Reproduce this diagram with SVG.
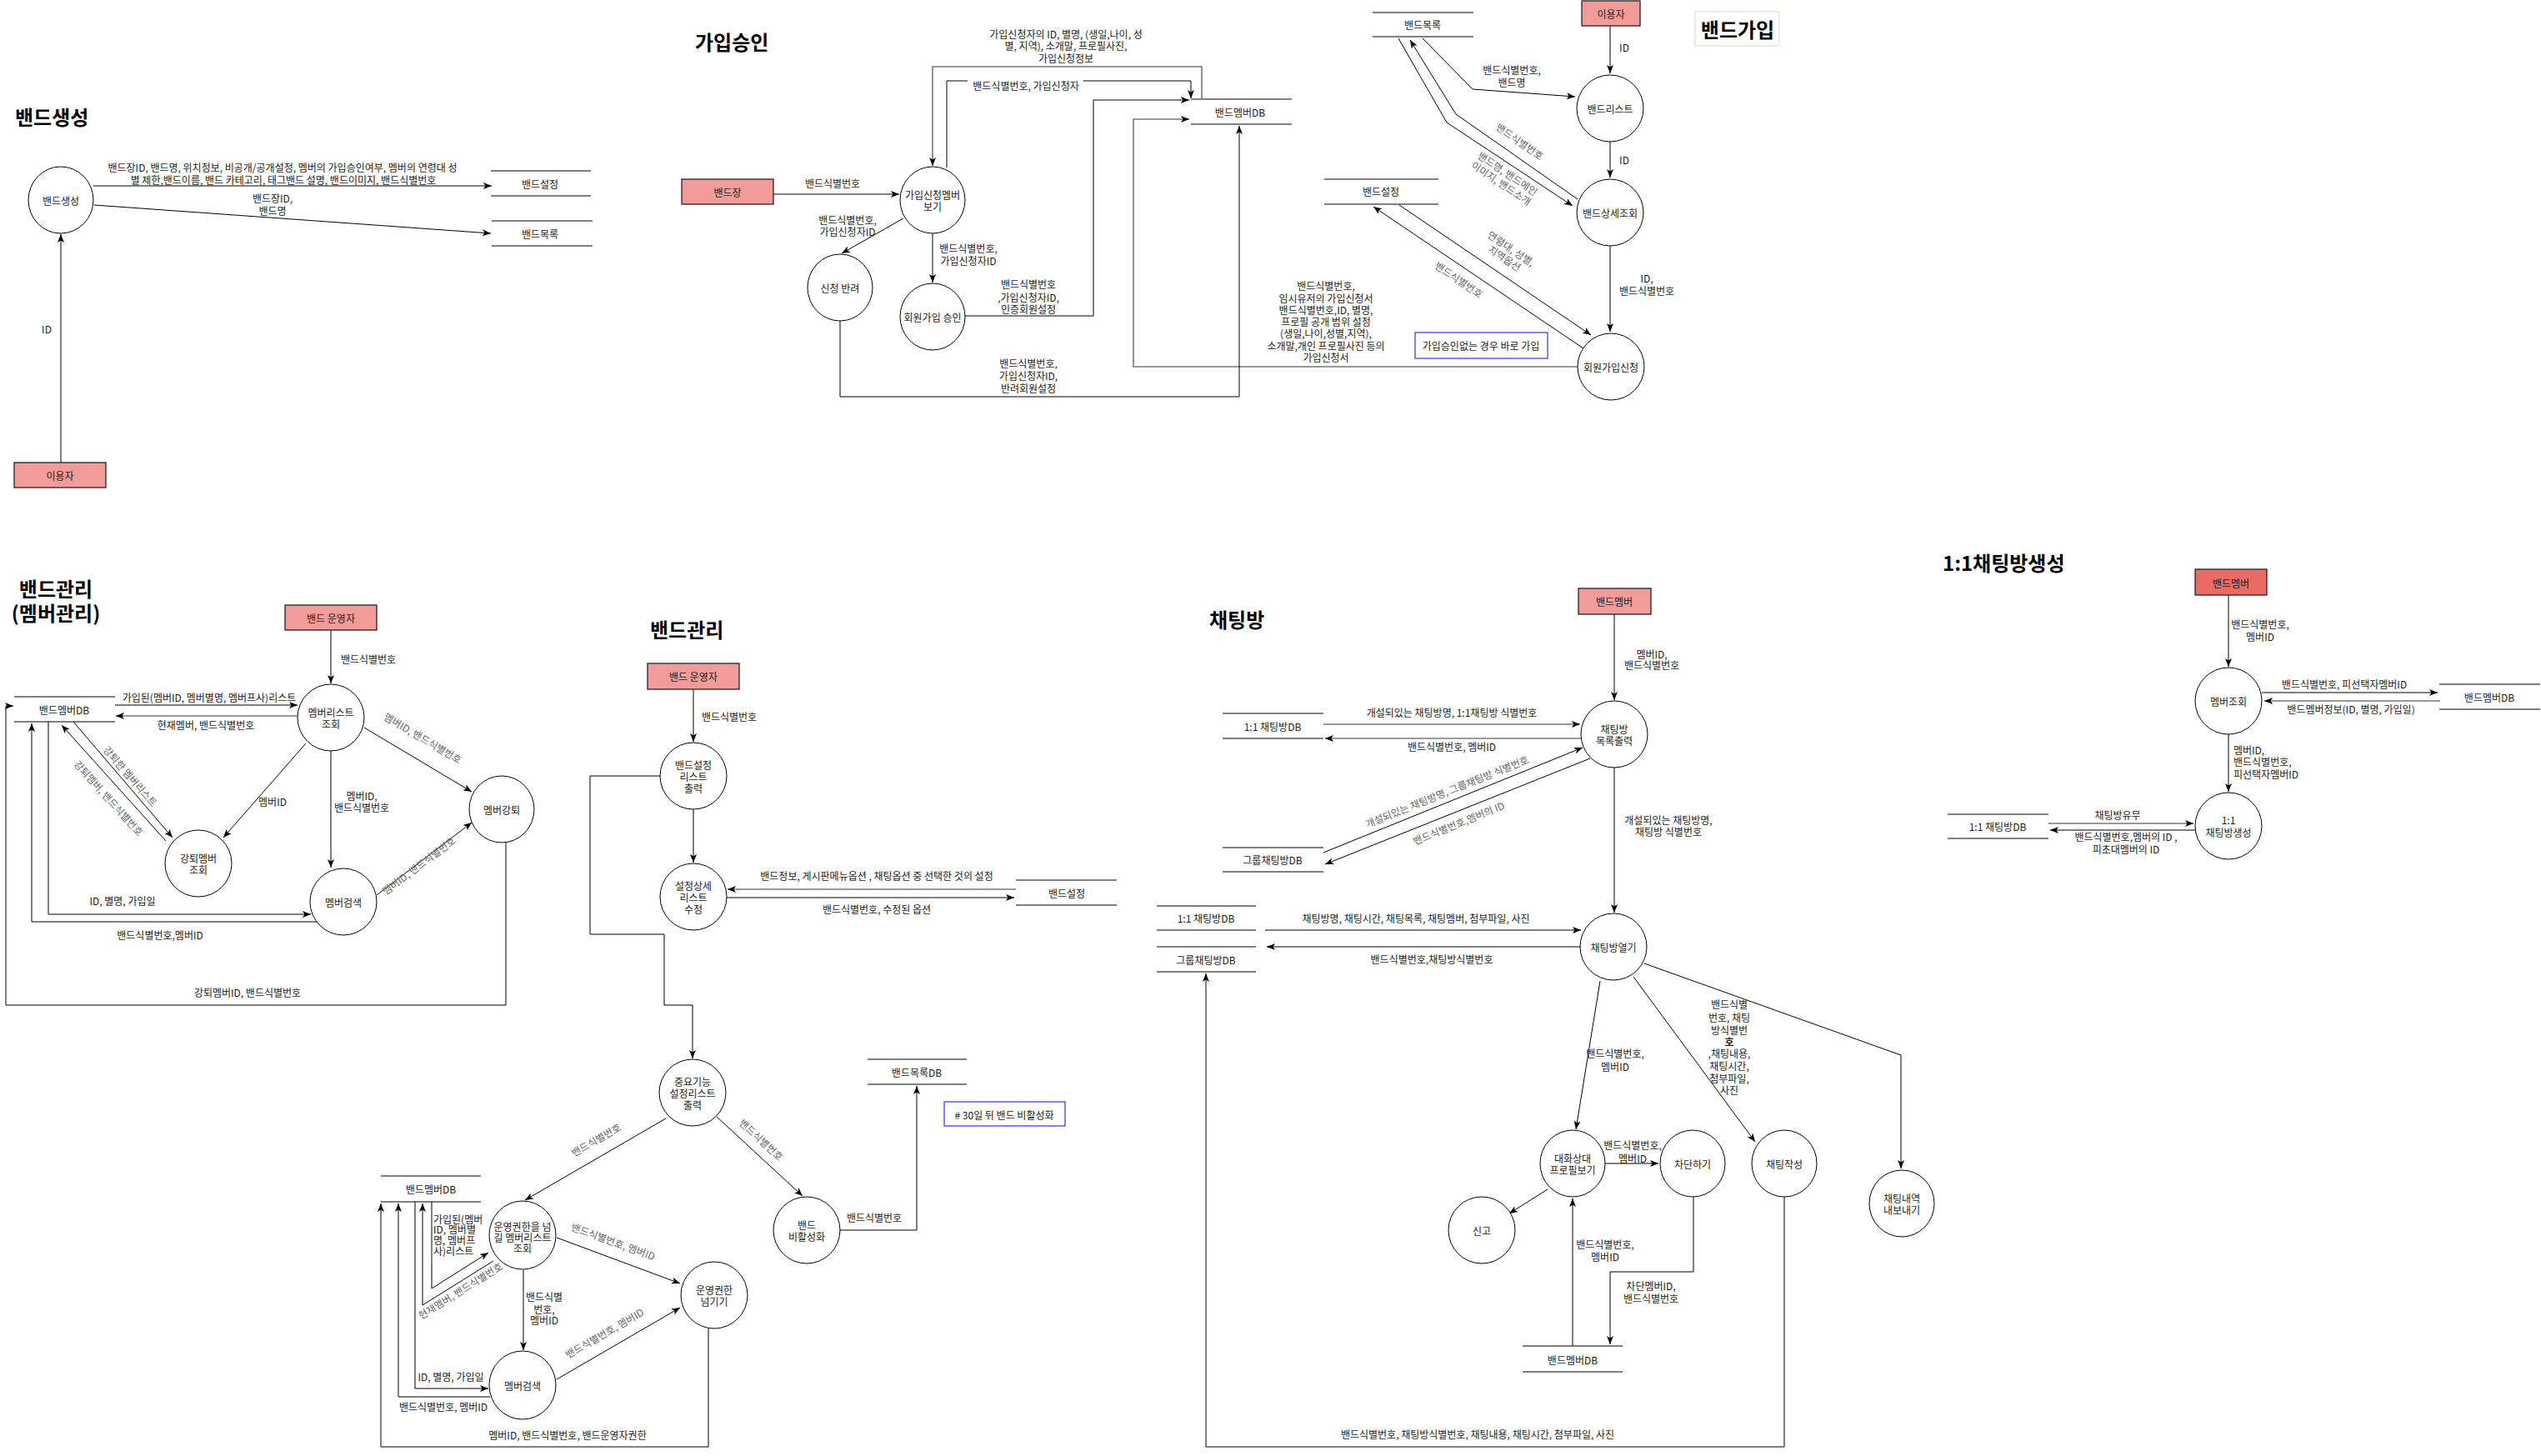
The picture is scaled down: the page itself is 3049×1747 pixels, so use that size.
<svg xmlns="http://www.w3.org/2000/svg" width="3049" height="1747" viewBox="0 0 3049 1747">
<style>
text{font-family:"Noto Sans CJK KR","Noto Sans",sans-serif;font-size:12px;fill:#1a1a1a;text-anchor:middle;dominant-baseline:central}
.g{fill:#666}
.st{text-anchor:start}
.title{font-size:24px;font-weight:bold;fill:#000;text-anchor:start}
.ent{fill:#F19C99;stroke:#222;stroke-width:1.3}
.proc{fill:#fff;stroke:#000;stroke-width:1}
.sl{stroke:#000;stroke-width:1;fill:none}
.slg{stroke:#808080;stroke-width:2;fill:none}
.c{fill:none;stroke:#000;stroke-width:1;marker-end:url(#a)}
.cg{fill:none;stroke:#777;stroke-width:1.6;marker-end:url(#ag)}
.note{fill:#fff;stroke:#4040ff;stroke-width:1.3}
.bg{fill:#fff}
</style>
<defs>
<marker id="a" markerUnits="userSpaceOnUse" markerWidth="10" markerHeight="8" refX="10" refY="4" orient="auto"><path d="M0,0 L10,4 L0,8 L2.5,4 Z" fill="#000"/></marker>
<marker id="ag" markerUnits="userSpaceOnUse" markerWidth="10" markerHeight="8" refX="10" refY="4" orient="auto"><path d="M0,0 L10,4 L0,8 L2.5,4 Z" fill="#000"/></marker>
</defs>
<rect width="3049" height="1747" fill="#fff"/>

<!-- titles -->
<g id="titles">
<text class="title" x="18" y="139">밴드생성</text>
<text class="title" x="834" y="49">가입승인</text>
<rect x="2034" y="14" width="101" height="41" fill="#fff" stroke="#e3f2dc" stroke-width="2"/>
<text class="title" x="2085" y="34" style="text-anchor:middle">밴드가입</text>
<text class="title" x="67" y="705" style="text-anchor:middle">밴드관리</text>
<text class="title" x="67" y="734" style="text-anchor:middle">(멤버관리)</text>
<text class="title" x="780" y="754">밴드관리</text>
<text class="title" x="1451" y="742">채팅방</text>
<text class="title" x="2331" y="674">1:1채팅방생성</text>
</g>

<!-- connectors -->
<g id="connectors">
<!-- 밴드생성 -->
<path class="c" d="M112,223 L590,223"/>
<path class="c" d="M113,246 L589,280"/>
<path class="c" d="M73,555 L73,281"/>
<!-- 가입승인 -->
<path class="c" d="M928,233 L1079,233"/>
<path class="c" d="M1084,262 L1010,304"/>
<path class="c" d="M1119,280 L1119,339"/>
<path class="cg" d="M1442,119 L1442,80 L1119,80 L1119,199"/>
<path class="c" d="M1136,201 L1136,97 L1429,97 L1429,118"/>
<path class="c" d="M1158,379 L1312,379 L1312,120 L1427,120"/>
<path class="cg" d="M1893,440 L1360,440 L1360,143 L1427,143"/>
<path class="c" d="M1008,385 L1008,476 L1487,476 L1487,151"/>
<!-- 밴드가입 -->
<path class="c" d="M1932,31 L1932,88"/>
<path class="c" d="M1932,170 L1932,213"/>
<path class="c" d="M1932,295 L1932,398"/>
<path class="c" d="M1707,46 L1767,107 L1890,116"/>
<path class="c" d="M1893,239 L1747,137 L1692,48"/>
<path class="c" d="M1678,46 L1736,147 L1887,247"/>
<path class="c" d="M1679,246 L1909,402"/>
<path class="c" d="M1900,418 L1648,248"/>
<!-- 밴드관리(멤버관리) -->
<path class="c" d="M397,756 L397,820"/>
<path class="c" d="M138,846 L357,846"/>
<path class="cg" d="M357,859 L139,859"/>
<path class="c" d="M437,873 L566,950"/>
<path class="c" d="M367,892 L268,1005"/>
<path class="c" d="M397,901 L397,1041"/>
<path class="c" d="M452,1074 L566,987"/>
<path class="c" d="M88,866 L207,1005"/>
<path class="c" d="M199,1009 L74,870"/>
<path class="c" d="M58,866 L58,1097 L373,1097"/>
<path class="c" d="M382,1106 L38,1106 L38,868"/>
<path class="c" d="M607,1011 L607,1206 L7,1206 L7,847 L16,847"/>
<!-- 밴드관리 -->
<path class="c" d="M832,827 L832,890"/>
<path class="c" d="M832,971 L832,1035"/>
<path class="cg" d="M1219,1067 L873,1067"/>
<path class="c" d="M872,1077 L1217,1077"/>
<path class="c" d="M792,931 L708,931 L708,1121 L797,1121 L797,1206 L831,1206 L831,1270"/>
<path class="c" d="M799,1342 L630,1440"/>
<path class="c" d="M860,1340 L963,1435"/>
<path class="c" d="M1008,1476 L1100,1476 L1100,1303"/>
<path class="c" d="M518,1442 L518,1546 L586,1503"/>
<path class="c" d="M592,1513 L507,1566 L507,1444"/>
<path class="c" d="M628,1524 L628,1620"/>
<path class="c" d="M498,1442 L498,1666 L586,1666"/>
<path class="c" d="M588,1676 L478,1676 L478,1444"/>
<path class="c" d="M850,1594 L850,1736 L457,1736 L457,1444"/>
<path class="c" d="M668,1485 L816,1540"/>
<path class="c" d="M668,1655 L816,1569"/>
<!-- 채팅방 -->
<path class="c" d="M1937,737 L1937,840"/>
<path class="c" d="M1937,921 L1937,1095"/>
<path class="cg" d="M1588,869 L1896,869"/>
<path class="cg" d="M1898,886 L1590,886"/>
<path class="c" d="M1588,1023 L1899,897"/>
<path class="c" d="M1908,910 L1590,1037"/>
<path class="c" d="M1518,1116 L1897,1116"/>
<path class="c" d="M1896,1136 L1520,1136"/>
<path class="c" d="M2141,1436 L2141,1736 L1447,1736 L1447,1168"/>
<path class="c" d="M1920,1177 L1891,1355"/>
<path class="c" d="M1926,1396 L1990,1396"/>
<path class="c" d="M1960,1172 L2106,1370"/>
<path class="c" d="M1857,1427 L1811,1456"/>
<path class="c" d="M1973,1156 L2281,1266 L2281,1402"/>
<path class="c" d="M2032,1436 L2032,1526 L1932,1526 L1932,1613"/>
<path class="c" d="M1887,1615 L1887,1438"/>
<!-- 1:1채팅방생성 -->
<path class="c" d="M2674,714 L2674,800"/>
<path class="c" d="M2714,831 L2925,831"/>
<path class="cg" d="M2928,841 L2717,841"/>
<path class="c" d="M2674,881 L2674,950"/>
<path class="cg" d="M2458,988 L2632,988"/>
<path class="c" d="M2634,996 L2460,996"/>
</g>

<!-- connector labels -->
<g id="labels">
<text x="339" y="200">밴드장ID, 밴드명, 위치정보, 비공개/공개설정, 멤버의 가입승인여부,  멤버의 연령대 성</text>
<text x="340" y="215">별 제한,밴드이름,  밴드 카테고리,  태그밴드 설명,  밴드이미지, 밴드식별번호</text>
<text x="327" y="237">밴드장ID,</text>
<text x="327" y="252">밴드명</text>
<text x="56" y="394">ID</text>

<text x="999" y="219">밴드식별번호</text>
<text x="1017" y="263">밴드식별번호,</text>
<text x="1017" y="277">가입신청자ID</text>
<text x="1162" y="297">밴드식별번호,</text>
<text x="1162" y="312">가입신청자ID</text>
<text x="1279" y="40">가입신청자의 ID, 별명, (생일,나이, 성</text>
<text x="1279" y="54">별, 지역), 소개말, 프로필사진,</text>
<text x="1279" y="69">가입신청정보</text>
<rect class="bg" x="1161" y="94" width="139" height="16"/>
<text x="1231" y="102">밴드식별번호, 가입신청자</text>
<text x="1234" y="340">밴드식별번호</text>
<text x="1234" y="356">,가입신청자ID,</text>
<text x="1234" y="370">인증회원설정</text>
<text x="1234" y="435">밴드식별번호,</text>
<text x="1234" y="450">가입신청자ID,</text>
<text x="1234" y="465">반려회원설정</text>

<text x="1949" y="56">ID</text>
<text x="1949" y="191">ID</text>
<text x="1976" y="333">ID,</text>
<text x="1976" y="348">밴드식별번호</text>
<text x="1814" y="83">밴드식별번호,</text>
<text x="1814" y="98">밴드명</text>
<text class="g" transform="translate(1824,169) rotate(35)">밴드식별번호</text>
<text class="g" transform="translate(1806,213) rotate(34)"><tspan x="0" y="-7">밴드명, 밴드메인</tspan><tspan x="0" y="7">이미지, 밴드소개</tspan></text>
<text class="g" transform="translate(1810,303) rotate(34)"><tspan x="0" y="-7">연령대, 성별,</tspan><tspan x="0" y="7">지역옵션</tspan></text>
<text class="g" transform="translate(1751,335) rotate(34)">밴드식별번호</text>
<text x="1591" y="342">밴드식별번호,</text>
<text x="1591" y="357">임시유저의 가입신청서</text>
<text x="1591" y="371">밴드식별번호,ID, 별명,</text>
<text x="1591" y="385">프로필 공개 범위 설정</text>
<text x="1591" y="399">(생일,나이,성별,지역),</text>
<text x="1591" y="414">소개말,개인 프로필사진 등의</text>
<text x="1591" y="428">가입신청서</text>

<text x="442" y="790">밴드식별번호</text>
<text x="251" y="836">가입된(멤버ID, 멤버별명, 멤버프사)리스트</text>
<text x="247" y="869">현재멤버, 밴드식별번호</text>
<text class="g" transform="translate(508,885) rotate(30.6)">멤버ID, 밴드식별번호</text>
<text x="327" y="961">멤버ID</text>
<text x="434" y="954">멤버ID,</text>
<text x="434" y="968">밴드식별번호</text>
<text class="g" transform="translate(502,1038) rotate(-37)">멤버ID, 밴드식별번호</text>
<text class="g" transform="translate(157,931) rotate(49)">강퇴한 멤버리스트</text>
<text class="g" transform="translate(131,957) rotate(48)">강퇴멤버, 밴드식별번호</text>
<text x="147" y="1080">ID, 별명, 가입일</text>
<text x="192" y="1121">밴드식별번호,멤버ID</text>
<text x="297" y="1190">강퇴멤버ID, 밴드식별번호</text>

<rect class="bg" x="840" y="851" width="71" height="16"/>
<text x="875" y="859">밴드식별번호</text>
<text x="1052" y="1050">밴드정보,  게시판메뉴옵션 , 채팅옵션 중 선택한 것의 설정</text>
<text x="1052" y="1090">밴드식별번호, 수정된 옵션</text>
<text class="g" transform="translate(715,1367) rotate(-30)">밴드식별번호</text>
<text class="g" transform="translate(914,1367) rotate(42.7)">밴드식별번호</text>
<text x="1049" y="1460">밴드식별번호</text>
<text class="st" x="520" y="1462">가입된(멤버</text>
<text class="st" x="520" y="1474">ID, 멤버별</text>
<text class="st" x="520" y="1487">명, 멤버프</text>
<text class="st" x="520" y="1500">사)리스트</text>
<text class="g" transform="translate(552,1548) rotate(-32)">현재멤버, 밴드식별번호</text>
<text x="653" y="1555">밴드식별</text>
<text x="653" y="1570">번호,</text>
<text x="653" y="1583">멤버ID</text>
<text x="541" y="1651">ID, 별명, 가입일</text>
<text x="532" y="1687">밴드식별번호, 멤버ID</text>
<text x="681" y="1721">멤버ID, 밴드식별번호, 밴드운영자권한</text>
<text class="g" transform="translate(736,1489) rotate(20)">밴드식별번호, 멤버ID</text>
<text class="g" transform="translate(725,1599) rotate(-30)">밴드식별번호, 멤버ID</text>

<text x="1982" y="784">멤버ID,</text>
<text x="1982" y="797">밴드식별번호</text>
<text x="2002" y="983">개설되있는 채팅방명,</text>
<text x="2002" y="997">채팅방 식별번호</text>
<text x="1742" y="854">개설되있는 채팅방명, 1:1채팅방 식별번호</text>
<text x="1742" y="895">밴드식별번호, 멤버ID</text>
<text class="g" transform="translate(1736,949) rotate(-22)">개설되있는 채팅방명, 그룹채팅방 식별번호</text>
<text class="g" transform="translate(1750,987) rotate(-22)">밴드식별번호,멤버의 ID</text>
<text x="1699" y="1101">채팅방명, 채팅시간, 채팅목록, 채팅멤버, 첨부파일, 사진</text>
<text x="1718" y="1150">밴드식별번호,채팅방식별번호</text>
<text x="1938" y="1263">밴드식별번호,</text>
<text x="1938" y="1279">멤버ID</text>
<text x="1959" y="1373">밴드식별번호,</text>
<text x="1959" y="1389">멤버ID</text>
<text x="2075" y="1204">밴드식별</text>
<text x="2075" y="1220">번호, 채팅</text>
<text x="2075" y="1235">방식별번</text>
<text x="2075" y="1249" style="font-weight:bold">호</text>
<text x="2075" y="1263">,채팅내용,</text>
<text x="2075" y="1278">채팅시간,</text>
<text x="2075" y="1293">첨부파일,</text>
<text x="2075" y="1307">사진</text>
<text x="1981" y="1542">차단멤버ID,</text>
<text x="1981" y="1557">밴드식별번호</text>
<text x="1926" y="1492">밴드식별번호,</text>
<text x="1926" y="1507">멤버ID</text>
<text x="1773" y="1720">밴드식별번호, 채팅방식별번호, 채팅내용, 채팅시간, 첨부파일,  사진</text>

<text x="2712" y="748">밴드식별번호,</text>
<text x="2712" y="763">멤버ID</text>
<text x="2813" y="820">밴드식별번호, 피선택자멤버ID</text>
<text x="2821" y="850">밴드멤버정보(ID, 별명, 가입일)</text>
<text class="st" x="2680" y="899">멤버ID,</text>
<text class="st" x="2680" y="913">밴드식별번호,</text>
<text class="st" x="2680" y="928">피선택자멤버ID</text>
<text x="2541" y="977">채팅방유무</text>
<text x="2551" y="1003">밴드식별번호,멤버의 ID ,</text>
<text x="2551" y="1018">피초대멤버의 ID</text>
</g>

<!-- 밴드생성 nodes -->
<g id="n_create"><ellipse class="proc" cx="73" cy="240" rx="39" ry="40"/><text x="73" y="240">밴드생성</text></g>
<g id="s1_set"><path class="sl" d="M589,205 H709 M589,235 H709"/><text x="648" y="220">밴드설정</text></g>
<g id="s1_list"><path class="slg" d="M590,265 H711 M590,295 H711"/><text x="648" y="280">밴드목록</text></g>
<g id="e1_user"><rect class="ent" x="17" y="555" width="110" height="30"/><text x="72" y="570">이용자</text></g>

<!-- 가입승인 nodes -->
<g id="e2_leader"><rect class="ent" x="818" y="215" width="110" height="30"/><text x="873" y="230">밴드장</text></g>
<g id="p2_view"><ellipse class="proc" cx="1119" cy="240" rx="39" ry="40"/><text x="1119" y="233">가입신청멤버</text><text x="1119" y="247">보기</text></g>
<g id="p2_reject"><ellipse class="proc" cx="1008" cy="345" rx="39" ry="40"/><text x="1008" y="345">신청 반려</text></g>
<g id="p2_approve"><ellipse class="proc" cx="1119" cy="380" rx="39" ry="40"/><text x="1119" y="380">회원가입 승인</text></g>
<g id="s2_member"><path class="slg" d="M1429,119 H1550 M1429,149 H1550"/><text x="1488" y="134">밴드멤버DB</text></g>

<!-- 밴드가입 nodes -->
<g id="s3_list"><path class="slg" d="M1647,15 H1768 M1647,44 H1768"/><text x="1707" y="29">밴드목록</text></g>
<g id="e3_user"><rect class="ent" x="1898" y="1" width="70" height="30"/><text x="1933" y="16">이용자</text></g>
<g id="p3_list"><ellipse class="proc" cx="1932" cy="130" rx="40" ry="40"/><text x="1932" y="130">밴드리스트</text></g>
<g id="p3_detail"><ellipse class="proc" cx="1932" cy="255" rx="40" ry="40"/><text x="1932" y="255">밴드상세조회</text></g>
<g id="p3_join"><ellipse class="proc" cx="1933" cy="440" rx="40" ry="40"/><text x="1933" y="440">회원가입신청</text></g>
<g id="s3_set"><path class="slg" d="M1589,215 H1726 M1589,245 H1726"/><text x="1657" y="229">밴드설정</text></g>
<g id="note3"><rect class="note" x="1698" y="399" width="159" height="31"/><text x="1777" y="414">가입승인없는 경우 바로 가입</text></g>

<!-- 밴드관리(멤버관리) nodes -->
<g id="e4_op"><rect class="ent" x="342" y="726" width="110" height="30"/><text x="397" y="741">밴드 운영자</text></g>
<g id="p4_list"><ellipse class="proc" cx="397" cy="861" rx="40" ry="40"/><text x="397" y="854">멤버리스트</text><text x="397" y="868">조회</text></g>
<g id="p4_kick"><ellipse class="proc" cx="602" cy="971" rx="39" ry="40"/><text x="602" y="971">멤버강퇴</text></g>
<g id="p4_kicked"><ellipse class="proc" cx="238" cy="1036" rx="40" ry="40"/><text x="238" y="1029">강퇴멤버</text><text x="238" y="1043">조회</text></g>
<g id="p4_search"><ellipse class="proc" cx="412" cy="1082" rx="40" ry="40"/><text x="412" y="1082">멤버검색</text></g>
<g id="s4_member"><path class="sl" d="M17,836 H138 M17,866 H138"/><text x="77" y="851">밴드멤버DB</text></g>

<!-- 밴드관리 nodes -->
<g id="e5_op"><rect class="ent" x="777" y="796" width="110" height="31"/><text x="832" y="811">밴드 운영자</text></g>
<g id="p5_setlist"><ellipse class="proc" cx="832" cy="931" rx="40" ry="40"/><text x="832" y="917">밴드설정</text><text x="832" y="931">리스트</text><text x="832" y="945">출력</text></g>
<g id="p5_detail"><ellipse class="proc" cx="832" cy="1076" rx="40" ry="40"/><text x="832" y="1062">설정상세</text><text x="832" y="1076">리스트</text><text x="832" y="1090">수정</text></g>
<g id="s5_set"><path class="sl" d="M1219,1056 H1340 M1219,1086 H1340"/><text x="1280" y="1071">밴드설정</text></g>
<g id="p6_main"><ellipse class="proc" cx="831" cy="1311" rx="40" ry="40"/><text x="831" y="1297">중요기능</text><text x="831" y="1311">설정리스트</text><text x="831" y="1325">출력</text></g>
<g id="s6_bandlist"><path class="sl" d="M1041,1271 H1160 M1041,1301 H1160"/><text x="1100" y="1286">밴드목록DB</text></g>
<g id="note6"><rect class="note" x="1133" y="1322" width="145" height="29"/><text x="1205" y="1337"># 30일 뒤 밴드 비활성화</text></g>
<g id="p6_deact"><ellipse class="proc" cx="968" cy="1476" rx="40" ry="40"/><text x="968" y="1469">밴드</text><text x="968" y="1483">비활성화</text></g>
<g id="s6_member"><path class="sl" d="M457,1411 H577 M457,1442 H577"/><text x="517" y="1426">밴드멤버DB</text></g>
<g id="p6_tlist"><ellipse class="proc" cx="627" cy="1482" rx="40" ry="41"/><text x="627" y="1471">운영권한을 넘</text><text x="627" y="1484">길 멤버리스트</text><text x="627" y="1497">조회</text></g>
<g id="p6_search"><ellipse class="proc" cx="627" cy="1662" rx="40" ry="41"/><text x="627" y="1662">멤버검색</text></g>
<g id="p6_transfer"><ellipse class="proc" cx="857" cy="1554" rx="40" ry="40"/><text x="857" y="1547">운영권한</text><text x="857" y="1561">넘기기</text></g>

<!-- 채팅방 nodes -->
<g id="e7_member"><rect class="ent" x="1894" y="706" width="87" height="31"/><text x="1937" y="721">밴드멤버</text></g>
<g id="p7_list"><ellipse class="proc" cx="1937" cy="881" rx="40" ry="40"/><text x="1937" y="874">채팅방</text><text x="1937" y="888">목록출력</text></g>
<g id="p7_open"><ellipse class="proc" cx="1936" cy="1136" rx="40" ry="40"/><text x="1936" y="1136">채팅방열기</text></g>
<g id="s7_one"><path class="sl" d="M1467,856 H1588 M1467,886 H1588"/><text x="1527" y="871">1:1 채팅방DB</text></g>
<g id="s7_group"><path class="sl" d="M1467,1017 H1588 M1467,1046 H1588"/><text x="1527" y="1031">그룹채팅방DB</text></g>
<g id="s7_one2"><path class="sl" d="M1388,1087 H1507 M1388,1116 H1507"/><text x="1447" y="1101">1:1 채팅방DB</text></g>
<g id="s7_group2"><path class="sl" d="M1388,1136 H1507 M1388,1166 H1507"/><text x="1447" y="1151">그룹채팅방DB</text></g>
<g id="p8_profile"><ellipse class="proc" cx="1887" cy="1396" rx="39" ry="40"/><text x="1887" y="1389">대화상대</text><text x="1887" y="1403">프로필보기</text></g>
<g id="p8_block"><ellipse class="proc" cx="2031" cy="1396" rx="39" ry="40"/><text x="2031" y="1396">차단하기</text></g>
<g id="p8_write"><ellipse class="proc" cx="2141" cy="1396" rx="39" ry="40"/><text x="2141" y="1396">채팅작성</text></g>
<g id="p8_report"><ellipse class="proc" cx="1778" cy="1476" rx="40" ry="40"/><text x="1778" y="1476">신고</text></g>
<g id="p8_export"><ellipse class="proc" cx="2282" cy="1444" rx="39" ry="40"/><text x="2282" y="1437">채팅내역</text><text x="2282" y="1451">내보내기</text></g>
<g id="s8_member"><path class="sl" d="M1827,1615 H1947 M1827,1646 H1947"/><text x="1887" y="1631">밴드멤버DB</text></g>

<!-- 1:1채팅방생성 nodes -->
<g id="e9_member"><rect class="ent" x="2634" y="683" width="86" height="31" style="fill:#EA6B66"/><text x="2677" y="699">밴드멤버</text></g>
<g id="p9_query"><ellipse class="proc" cx="2674" cy="841" rx="40" ry="40"/><text x="2674" y="841">멤버조회</text></g>
<g id="p9_create"><ellipse class="proc" cx="2674" cy="991" rx="40" ry="40"/><text x="2674" y="983">1:1</text><text x="2674" y="998">채팅방생성</text></g>
<g id="s9_member"><path class="sl" d="M2927,821 H3048 M2927,851 H3048"/><text x="2987" y="836">밴드멤버DB</text></g>
<g id="s9_one"><path class="sl" d="M2337,977 H2458 M2337,1006 H2458"/><text x="2397" y="991">1:1 채팅방DB</text></g>
</svg>
